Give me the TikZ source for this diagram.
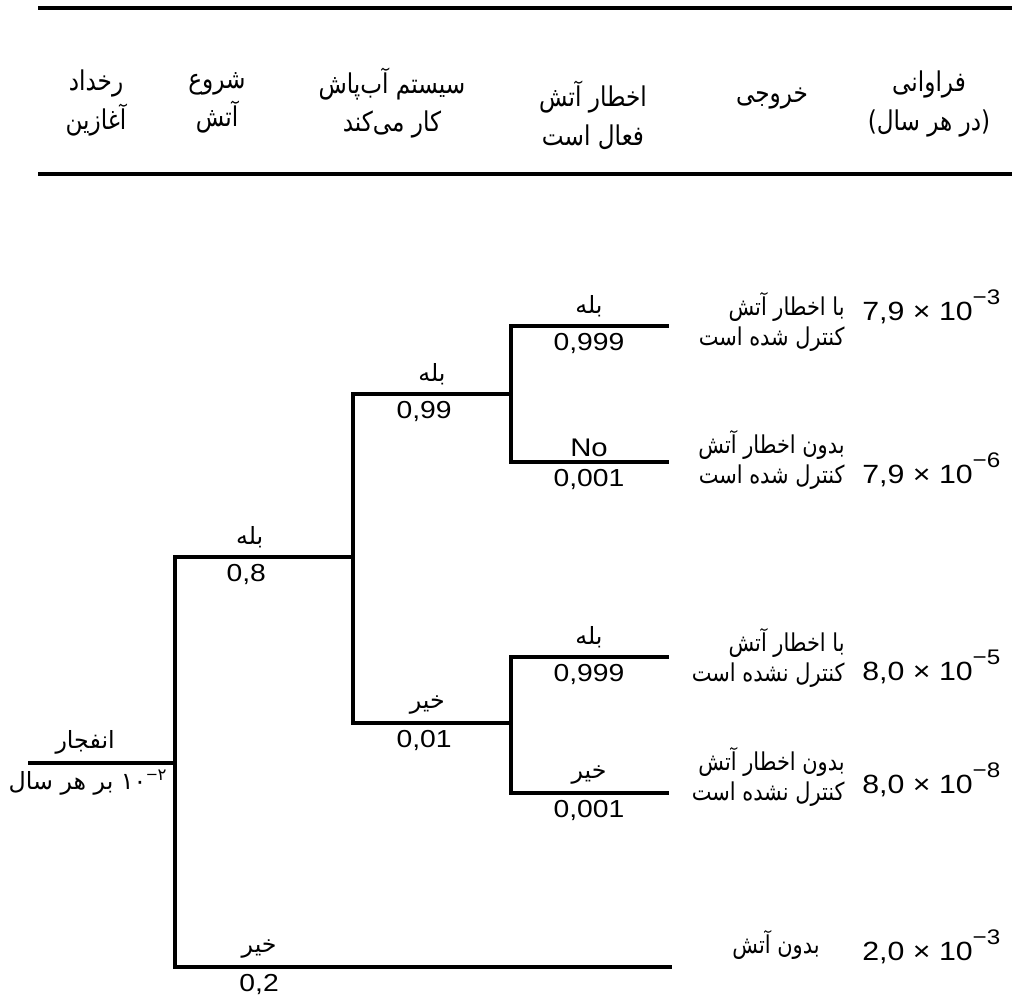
\documentclass[tikz,border=0pt]{standalone}
\usepackage{fontspec}
\setmainfont{Liberation Sans}
\newfontfamily\farsi[Script=Arabic]{DejaVu Sans}
\newfontfamily\farsinarrow[Script=Arabic,FakeStretch=0.85]{DejaVu Sans}
\newfontfamily\numfont[FakeStretch=1.15]{Liberation Sans}
\TeXXeTstate=1
\newcommand{\fa}[1]{\beginR #1\endR}
\newcommand{\expo}[1]{\raisebox{1.1ex}{\fontsize{12}{12}\selectfont #1}}
\tikzset{
  branch/.style={line width=1.8pt, line cap=rect},
  rule/.style={line width=2.4pt},
  head/.style={font=\farsinarrow\fontsize{15.5}{22}\selectfont, align=center, inner sep=0pt},
  yes/.style={font=\farsi\fontsize{13.5}{15}\selectfont, above=3pt, inner sep=1pt},
  prob/.style={font=\numfont\fontsize{14}{16}\selectfont, below=2pt, inner sep=1pt},
  outcome/.style={font=\farsinarrow\fontsize{14}{17}\selectfont, align=right, anchor=east, inner sep=0pt},
  freq/.style={font=\numfont\fontsize{15}{17}\selectfont, anchor=base west, inner sep=0pt}
}
\begin{document}
\begin{tikzpicture}[x=0.02cm, y=-0.02cm]
\useasboundingbox (0,0) rectangle (1024,1005);

% header
\draw[rule] (38,8) -- (1012,8);
\draw[rule] (38,174) -- (1012,174);
\node[head] (h1) at (96,103)  {\fa{رخداد}\\\fa{آغازین}};
\node[head] (h2) at (217,103) {\fa{شروع}\\\fa{آتش}};
\node[head] (h3) at (392,103) {\fa{سیستم آب‌پاش}\\\fa{کار می‌کند}};
\node[head] (h4) at (593,115) {\fa{اخطار آتش}\\\fa{فعال است}};
\node[head] (h5) at (772,99)  {\fa{خروجی}};
\node[head] (h6) at (929,104) {\fa{فراوانی}\\\fa{(در هر سال)}};

% junctions
\coordinate (start) at (30,763);
\coordinate (ie) at (175,763);
\coordinate (fy) at (175,557);
\coordinate (fn) at (175,967);
\coordinate (s) at (353,557);
\coordinate (sy) at (353,394);
\coordinate (sn) at (353,723);
\coordinate (a1) at (511,394);
\coordinate (a2) at (511,723);
\coordinate (ay1) at (511,326);
\coordinate (an1) at (511,462);
\coordinate (ay2) at (511,657);
\coordinate (an2) at (511,793);
\coordinate (e1) at (667,326);
\coordinate (e2) at (667,462);
\coordinate (e3) at (667,657);
\coordinate (e4) at (667,793);
\coordinate (e5) at (670,967);

% tree
\draw[branch] (start) -- (ie)
  node[yes, pos=0.38] {\fa{انفجار}}
  node[yes, below=5pt, pos=0.4] {\fa{بر هر سال}\ ۱۰\textsuperscript{{\numfont −}۲}};
\draw[branch] (fy) -- (fn);
\draw[branch] (fy) -- (s) node[yes, pos=0.42] {\fa{بله}} node[prob, pos=0.4] {0,8};
\draw[branch] (fn) -- (e5) node[yes, pos=0.17] {\fa{خیر}} node[prob, pos=0.17] {0,2};
\draw[branch] (sy) -- (sn);
\draw[branch] (sy) -- (a1) node[yes, midway] {\fa{بله}} node[prob, pos=0.45] {0,99};
\draw[branch] (sn) -- (a2) node[yes, pos=0.47] {\fa{خیر}} node[prob, pos=0.45] {0,01};
\draw[branch] (ay1) -- (an1);
\draw[branch] (ay2) -- (an2);
\draw[branch] (ay1) -- (e1) node[yes, midway] {\fa{بله}} node[prob, midway] {0,999};
\draw[branch] (an1) -- (e2) node[midway, above=1pt, font=\numfont\fontsize{14.5}{16}\selectfont, inner sep=1pt] {No} node[prob, midway] {0,001};
\draw[branch] (ay2) -- (e3) node[yes, midway] {\fa{بله}} node[prob, midway] {0,999};
\draw[branch] (an2) -- (e4) node[yes, midway] {\fa{خیر}} node[prob, midway] {0,001};

% outcomes
\node[outcome] (o1) at (845,322) {\fa{با اخطار آتش}\\\fa{کنترل شده است}};
\node[outcome] (o2) at (845,460) {\fa{بدون اخطار آتش}\\\fa{کنترل شده است}};
\node[outcome] (o3) at (845,658) {\fa{با اخطار آتش}\\\fa{کنترل نشده است}};
\node[outcome] (o4) at (845,777) {\fa{بدون اخطار آتش}\\\fa{کنترل نشده است}};
\node[outcome] (o5) at (820,945) {\fa{بدون آتش}};

% frequencies
\node[freq] (p1) at (862,320) {7,9 × 10\expo{−3}};
\node[freq] (p2) at (862,483) {7,9 × 10\expo{−6}};
\node[freq] (p3) at (862,680) {8,0 × 10\expo{−5}};
\node[freq] (p4) at (862,793) {8,0 × 10\expo{−8}};
\node[freq] (p5) at (862,960) {2,0 × 10\expo{−3}};
\end{tikzpicture}
\end{document}
